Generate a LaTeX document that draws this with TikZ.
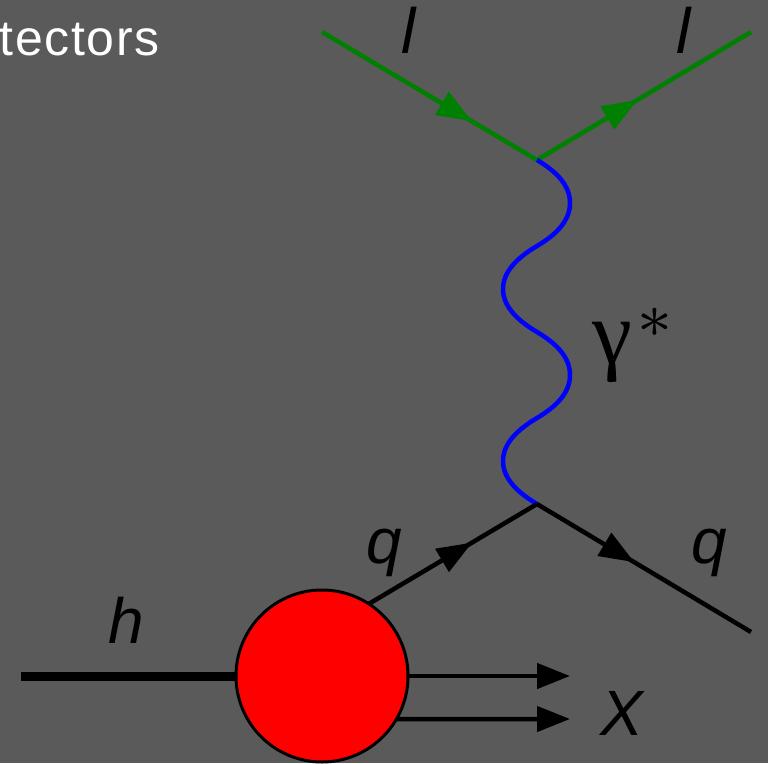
\documentclass[tikz,border=0pt]{standalone}
\usepackage{fontspec}
\setmainfont{Liberation Sans}
\newfontfamily\wordfont[LetterSpace=3.4]{Liberation Sans}
\newfontfamily\gammafont{Liberation Serif}
\usetikzlibrary{arrows.meta,decorations.markings}
\definecolor{slidegray}{RGB}{90,90,90}
\definecolor{leptongreen}{RGB}{0,128,0}
\definecolor{photonblue}{RGB}{0,0,255}
\definecolor{blobred}{RGB}{255,0,0}
\tikzset{
  label text/.style={font=\fontsize{64}{64}\selectfont\itshape,text=black,anchor=base,inner sep=0pt},
  fermion/.style={line width=4.5pt,postaction={decorate},decoration={markings,
    mark=at position #1 with {\arrow{Triangle[length=35pt,width=26pt]}}}},
  photon/.style={line width=4.5pt,photonblue},
  outgoing/.style={line width=4.5pt,-{Triangle[length=33pt,width=25pt]}}
}
\begin{document}
\begin{tikzpicture}[x=1pt,y=-1pt]
  \useasboundingbox (0,0) rectangle (768,763);
  \fill[slidegray] (0,0) rectangle (768,763);
  \node[font=\fontsize{50}{50}\wordfont,text=white,anchor=base east,inner sep=0pt] (word) at (160,55.5) {tectors};
  % vertices and free ends
  \coordinate (vtop) at (537,160);
  \coordinate (vbot) at (537,504);
  \coordinate (lin) at (322,32);
  \coordinate (lout) at (751,32);
  \coordinate (qout) at (751,632);
  \coordinate (hin) at (21,676);
  \coordinate (xone) at (570,676);
  \coordinate (xtwo) at (570,719);
  \node[circle,draw=black,fill=blobred,line width=3pt,inner sep=0pt,minimum size=172pt,outer sep=0pt] (blob) at (322,676) {};
  \draw[fermion=0.697,leptongreen] (lin) -- (vtop);
  \draw[fermion=0.469,leptongreen] (vtop) -- (lout);
  \draw[photon] (vtop) .. controls (559,173) and (570,187) .. (570,203)
    .. controls (570,219) and (559,233) .. (537,246)
    .. controls (515,259) and (503,273) .. (503,289)
    .. controls (503,305) and (515,319) .. (537,332)
    .. controls (559,345) and (570,359) .. (570,375)
    .. controls (570,391) and (559,405) .. (537,418)
    .. controls (515,431) and (503,445) .. (503,461)
    .. controls (503,477) and (515,491) .. (vbot);
  \draw[fermion=0.614,black] (blob.57) -- (vbot);
  \draw[fermion=0.455,black] (vbot) -- (qout);
  \draw[line width=9pt,black] (hin) -- (blob);
  \draw[outgoing] (blob.east) -- (xone);
  \draw[outgoing] (blob.-30) -- (xtwo);
  \node[label text] (lleft) at (409,53) {l};
  \node[label text] (lright) at (684,53) {l};
  \node[label text] (qleft) at (384,563) {q};
  \node[label text] (qright) at (709,563) {q};
  \node[label text] (hlabel) at (126,643) {h};
  \node[label text] (xlabel) at (622,735) {X};
  \node[scale=9,font=\gammafont,text=black,anchor=base west,inner sep=0pt] (gammalabel) at (591,363) {γ\kern0.4pt\raisebox{-0.8pt}{$^*$}};
\end{tikzpicture}
\end{document}
